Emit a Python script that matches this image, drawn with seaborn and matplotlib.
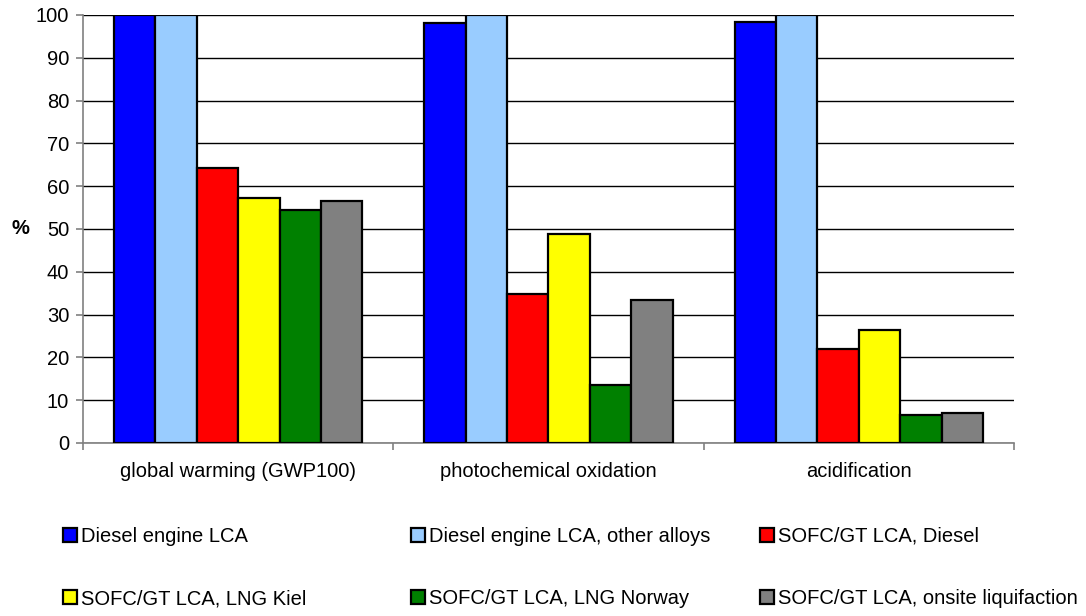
import matplotlib
matplotlib.use("Agg")
import matplotlib.pyplot as plt
import seaborn as sns
import pandas as pd
from matplotlib.ticker import FixedLocator

categories = ["global warming (GWP100)", "photochemical oxidation", "acidification"]
series = ["Diesel engine LCA", "Diesel engine LCA, other alloys", "SOFC/GT LCA, Diesel",
          "SOFC/GT LCA, LNG Kiel", "SOFC/GT LCA, LNG Norway", "SOFC/GT LCA, onsite liquifaction"]
diesel = [100.0, 98.1, 98.3]
diesel_alloys = [100.0, 100.0, 100.0]
sofc_diesel = [64.2, 34.8, 21.9]
sofc_lng_kiel = [57.2, 48.8, 26.4]
sofc_lng_norway = [54.4, 13.6, 6.5]
sofc_onsite = [56.6, 33.4, 6.9]
yticks = [0, 10, 20, 30, 40, 50, 60, 70, 80, 90, 100]

colors = ["#0000FF", "#99CCFF", "#FF0000", "#FFFF00", "#008000", "#808080"]

values = [diesel, diesel_alloys, sofc_diesel, sofc_lng_kiel, sofc_lng_norway, sofc_onsite]
rows = []
for s, vals in zip(series, values):
    for c, v in zip(categories, vals):
        rows.append({"category": c, "series": s, "value": v})
df = pd.DataFrame(rows)

sns.set_style("white")
plt.rcParams["font.family"] = ["Liberation Sans", "DejaVu Sans"]
plt.rcParams["text.color"] = "black"
plt.rcParams["xtick.color"] = "black"
plt.rcParams["ytick.color"] = "black"
FS = 14.5

fig = plt.figure(figsize=(10.86, 6.16), dpi=100)
ax = fig.add_axes([83 / 1086, 1 - 443 / 616, (1014 - 83) / 1086, (443 - 15) / 616])

sns.barplot(data=df, x="category", y="value", hue="series", order=categories,
            hue_order=series, palette=colors, saturation=1, edgecolor="black", linewidth=1.6,
            width=0.8, ax=ax, legend=False, zorder=3)

ax.set_ylim(0, 100)
ax.set_xlim(-0.5, 2.5)
ax.set_yticks(yticks)
ax.yaxis.grid(True, color="#000000", linewidth=1.0, zorder=0)
ax.set_axisbelow(True)
ax.xaxis.grid(False)
for side in ["top", "right"]:
    ax.spines[side].set_visible(False)
for side in ["left", "bottom"]:
    ax.spines[side].set_color("#808080")
    ax.spines[side].set_linewidth(1.2)

ax.tick_params(axis="y", which="major", left=True, length=5, width=1.2, color="#808080",
               labelsize=FS, pad=5, direction="out", labelcolor="black")
ax.tick_params(axis="x", which="major", length=0, labelsize=FS, pad=14, labelcolor="black")
ax.xaxis.set_minor_locator(FixedLocator([-0.5, 0.5, 1.5, 2.5]))
ax.tick_params(axis="x", which="minor", bottom=True, length=5, width=1.2, color="#808080",
               direction="out")
ax.set_xlabel("")
ax.set_ylabel("")
fig.text(20 / 1086, 1 - 229 / 616, "%", fontsize=FS, fontweight="bold", ha="center",
         va="center", color="black")

# legends: three columns, two rows each
handles = [plt.Rectangle((0, 0), 1, 1, facecolor=c, edgecolor="black", linewidth=1.6)
           for c in colors]
col_x = [63, 411, 760]
for i, x in enumerate(col_x):
    hs = [handles[i], handles[i + 3]]
    ls = [series[i], series[i + 3]]
    leg = fig.legend(hs, ls, loc="upper left", bbox_to_anchor=(x / 1086, 1 - 527 / 616),
                     frameon=False, fontsize=FS, handlelength=0.7, handleheight=0.7,
                     handletextpad=0.2, labelspacing=2.14, borderpad=0, borderaxespad=0)

fig.savefig("out.png", dpi=100)
